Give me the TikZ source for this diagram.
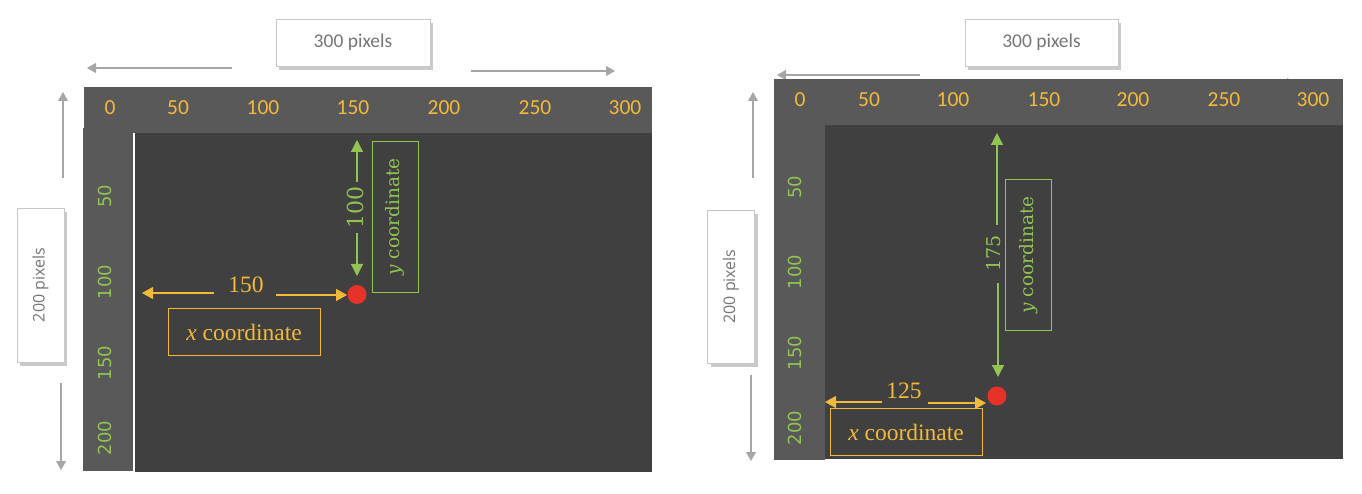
\documentclass[tikz,border=0pt]{standalone}
\usepackage{fontspec}
\setmainfont{Liberation Serif}
\newfontfamily\carl{Carlito}
\newfontfamily\dvs{DejaVu Sans}
\newfontfamily\osans{Open Sans}
\newfontfamily\dvserif{DejaVu Serif}
\usetikzlibrary{arrows.meta,shadows}
\definecolor{barg}{HTML}{595959}
\definecolor{darkg}{HTML}{404040}
\definecolor{yel}{HTML}{F2B93B}
\definecolor{grn}{HTML}{92C353}
\definecolor{arrg}{HTML}{A6A6A6}
\definecolor{txtg}{HTML}{767676}
\definecolor{boxb}{HTML}{C8C8C8}
\definecolor{dotred}{HTML}{E63228}
\begin{document}
\begin{tikzpicture}[x=1pt,y=-1pt,
  topnum/.style={text=yel,font=\carl\fontsize{21.5}{25}\selectfont,inner sep=0pt},
  sidenum/.style={text=grn,font=\dvs\fontsize{18}{21}\selectfont,rotate=90,inner sep=0pt},
  pixbox/.style={draw=boxb,fill=white,text=txtg,line width=0.8pt,
    drop shadow={shadow xshift=3pt,shadow yshift=-4pt,opacity=0.35,fill=black!60},
    inner sep=0pt},
  pixfont/.style={font=\carl\fontsize{19.5}{23}\selectfont},
  vpixfont/.style={font=\osans\fontsize{16}{19}\selectfont},
  grayarr/.style={draw=arrg,line width=1.2pt,-{Triangle[width=10pt,length=9pt]}},
  yelarr/.style={draw=yel,line width=1.3pt,-{Triangle[width=12pt,length=11pt]}},
  grnarr/.style={draw=grn,line width=1.3pt,-{Triangle[width=12pt,length=12pt]}},
  ybox/.style={draw=yel,line width=1pt,text=yel,inner sep=0pt,
    minimum width=152pt,minimum height=47pt,font=\fontsize{23.5}{27}\selectfont},
  gbox/.style={draw=grn,line width=1pt,text=grn,inner sep=0pt,rotate=90,
    minimum width=151pt,minimum height=46pt,font=\dvserif\fontsize{18.5}{22}\selectfont},
  ylabel/.style={text=yel,font=\fontsize{23.5}{27}\selectfont,inner sep=0pt},
  glabel/.style={text=grn,rotate=90,inner sep=0pt},
  reddot/.style={circle,fill=dotred,minimum size=19pt,inner sep=0pt}
]
\useasboundingbox (0,0) rectangle (1362,494);

% ================= LEFT PANEL =================
\coordinate (La1s) at (232,68);  \coordinate (La1e) at (87,68);
\coordinate (La2s) at (471,71);  \coordinate (La2e) at (615,71);
\coordinate (La3s) at (63,178);  \coordinate (La3e) at (63,92);
\coordinate (La4s) at (61,383);  \coordinate (La4e) at (61,470);
\draw[grayarr] (La1s) -- (La1e);
\draw[grayarr] (La2s) -- (La2e);
\draw[grayarr] (La3s) -- (La3e);
\draw[grayarr] (La4s) -- (La4e);

\fill[barg] (84,87) rectangle (652,133);
\fill[barg] (83,128) rectangle (133,471);
\fill[darkg] (134.6,133) rectangle (652,472);

\node[pixbox,minimum width=154pt,minimum height=47pt,pixfont] (Lpx) at (353,42.5) {300 pixels};
\node[pixbox,minimum width=47pt,minimum height=154pt] (Lpy) at (40.5,285) {};
\node[vpixfont,text=txtg,rotate=90,inner sep=0pt] (Lpyt) at (40.5,285) {200 pixels};

\node[topnum] (Lt0) at (110,108) {0};
\node[topnum] (Lt50) at (178,108) {50};
\node[topnum] (Lt100) at (263,108) {100};
\node[topnum] (Lt150) at (353,108) {150};
\node[topnum] (Lt200) at (444,108) {200};
\node[topnum] (Lt250) at (535,108) {250};
\node[topnum] (Lt300) at (625,108) {300};

\node[sidenum] (Ls50) at (105,196) {50};
\node[sidenum] (Ls100) at (105,282) {100};
\node[sidenum] (Ls150) at (105,363) {150};
\node[sidenum] (Ls200) at (105,438) {200};

\node[reddot] (Ldot) at (357,294.5) {};
\node[glabel,font=\dvserif\fontsize{22}{26}\selectfont] (Lg100) at (355,207.5) {100};
\coordinate (Lgts) at (357,182); \coordinate (Lgtop) at (357,140);
\coordinate (Lgbs) at (357,233); \coordinate (Lgbot) at (357,276);
\draw[grnarr] (Lgts) -- (Lgtop);
\draw[grnarr] (Lgbs) -- (Lgbot);
\node[gbox] (Lybox) at (395,217) {\textit{y} coordinate};

\node[ylabel] (L150) at (246,285) {150};
\coordinate (Lya) at (214,293); \coordinate (Lyae) at (142,293);
\coordinate (Lyb) at (276,295); \coordinate (Lybe) at (347,295);
\draw[yelarr] (Lya) -- (Lyae);
\draw[yelarr] (Lyb) -- (Lybe);
\node[ybox] (Lxbox) at (244,332) {\textit{x} coordinate};

% ================= RIGHT PANEL =================
\coordinate (Ra1s) at (920,75);   \coordinate (Ra1e) at (777,75);
\coordinate (Ra2s) at (1130,83);  \coordinate (Ra2e) at (1296,83);
\coordinate (Ra3s) at (753,178);  \coordinate (Ra3e) at (753,92);
\coordinate (Ra4s) at (751,375);  \coordinate (Ra4e) at (751,461);
\draw[grayarr] (Ra1s) -- (Ra1e);
\draw[grayarr] (Ra2s) -- (Ra2e);
\draw[grayarr] (Ra3s) -- (Ra3e);
\draw[grayarr] (Ra4s) -- (Ra4e);

\fill[barg] (774,79) rectangle (1343,125);
\fill[barg] (774,125) rectangle (825,460);
\fill[darkg] (825,125) rectangle (1343,459);

\node[pixbox,minimum width=153pt,minimum height=47pt,pixfont] (Rpx) at (1041.5,42.5) {300 pixels};
\node[pixbox,minimum width=47pt,minimum height=153pt] (Rpy) at (731,286.5) {};
\node[vpixfont,text=txtg,rotate=90,inner sep=0pt] (Rpyt) at (731,286.5) {200 pixels};

\node[topnum] (Rt0) at (800,100) {0};
\node[topnum] (Rt50) at (869,100) {50};
\node[topnum] (Rt100) at (953,100) {100};
\node[topnum] (Rt150) at (1044,100) {150};
\node[topnum] (Rt200) at (1133,100) {200};
\node[topnum] (Rt250) at (1224,100) {250};
\node[topnum] (Rt300) at (1313,100) {300};

\node[sidenum] (Rs50) at (795,187) {50};
\node[sidenum] (Rs100) at (795,272) {100};
\node[sidenum] (Rs150) at (795,353) {150};
\node[sidenum] (Rs200) at (795,428) {200};

\node[reddot] (Rdot) at (997,396) {};
\node[glabel,font=\dvserif\fontsize{19}{23}\selectfont] (Rg175) at (994,253.5) {175};
\coordinate (Rgts) at (997,225); \coordinate (Rgtop) at (997,133);
\coordinate (Rgbs) at (998,283); \coordinate (Rgbot) at (998,377);
\draw[grnarr] (Rgts) -- (Rgtop);
\draw[grnarr] (Rgbs) -- (Rgbot);
\node[gbox] (Rybox) at (1028.5,255) {\textit{y} coordinate};

\node[ylabel] (R125) at (904,391) {125};
\coordinate (Rya) at (882,402); \coordinate (Ryae) at (825,402);
\coordinate (Ryb) at (928,403); \coordinate (Rybe) at (986,403);
\draw[yelarr] (Rya) -- (Ryae);
\draw[yelarr] (Ryb) -- (Rybe);
\node[ybox] (Rxbox) at (906,432) {\textit{x} coordinate};
\end{tikzpicture}
\end{document}
